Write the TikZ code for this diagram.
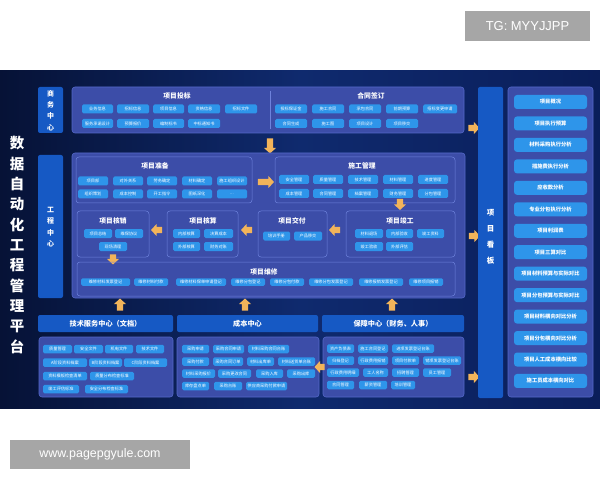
\documentclass[tikz,border=0pt]{standalone}
\usepackage{fontspec}
\setmainfont{Noto Sans CJK SC}
\newfontfamily\wmfont{Liberation Sans}
\usetikzlibrary{shapes.arrows}
\definecolor{panA}{HTML}{061236}
\definecolor{panB}{HTML}{0F2A6E}
\definecolor{panC}{HTML}{0A1E5A}
\definecolor{cenc}{HTML}{1659C4}
\definecolor{grpc}{HTML}{3C4DA8}
\definecolor{grpline}{HTML}{5468C8}
\definecolor{subline}{HTML}{6E82DC}
\definecolor{itemc}{HTML}{2E95EA}
\definecolor{arrc}{HTML}{F2B45A}
\definecolor{wmgray}{HTML}{A6A6A6}
\newcommand\itm[5]{\node[itm, minimum width={(#3-#2)*1bp}] (#1) at ({(#2+#3)/2},#4) {#5};}
\begin{document}
\begin{tikzpicture}[x=1bp,y=-1bp,
 itm/.style={rounded corners=1.5bp, fill=itemc, text=white, font=\fontsize{4.2}{5}\selectfont, inner sep=0pt, minimum height=9bp},
 grp/.style={rounded corners=3bp, fill=grpc, draw=grpline, line width=0.6bp},
 sub/.style={rounded corners=3bp, draw=subline, line width=0.5bp},
 cen/.style={fill=cenc, rounded corners=2bp},
 ttl/.style={text=white, font=\fontsize{6.8}{8}\selectfont\bfseries, inner sep=0pt},
 hdr/.style={text=white, font=\fontsize{7.2}{8}\selectfont\bfseries, inner sep=0pt},
 vtxt/.style={text=white, align=center, inner sep=0pt},
 arr/.style={single arrow, fill=arrc, draw=none, inner sep=3bp, single arrow head extend=2.8bp, minimum height=13bp, single arrow tip angle=95},
 ritm/.style={rounded corners=3bp, fill=itemc, text=white, font=\fontsize{5.3}{6}\selectfont\bfseries, inner sep=0pt, minimum width=73bp, minimum height=14bp},
]
\useasboundingbox (0,0) rectangle (600,480);
\fill[white] (0,0) rectangle (600,480);
% panel
\shade[left color=panA, right color=panC, middle color=panB] (0,71) rectangle (600,408);
% watermarks
\node[fill=wmgray, text=white, font=\wmfont\fontsize{13}{14}\selectfont, minimum width=125bp, minimum height=30bp, inner sep=0pt] (wm1) at (527.5,26) {TG: MYYJJPP};
\node[fill=wmgray, text=white, font=\wmfont\fontsize{12.5}{14}\selectfont, minimum width=180bp, minimum height=29bp, inner sep=0pt] (wm2) at (100,454.5) {www.pagepgyule.com};
% big vertical title
\node[vtxt, font=\fontsize{14.5}{20.4}\selectfont\bfseries] (title) at (17,245) {数\\据\\自\\动\\化\\工\\程\\管\\理\\平\\台};
% centre boxes
\fill[cen] (38,87) rectangle (63,133);
\node[vtxt, font=\fontsize{7}{11.5}\selectfont\bfseries] (swzx) at (50.5,110.5) {商\\务\\中\\心};
\fill[cen] (38,155) rectangle (63,298);
\node[vtxt, font=\fontsize{7}{11.5}\selectfont\bfseries] (gczx) at (50.5,227) {工\\程\\中\\心};
% ---------- top group
\draw[grp] (72,87) rectangle (464,133);
\draw[subline, line width=0.5bp] (270,91) -- (270,129);
\node[ttl] (t1) at (177,96) {项目投标};
\node[ttl] (t2) at (371,96) {合同签订};
\itm{a1}{82}{113}{109}{业务信息}
\itm{a2}{117}{149}{109}{招标信息}
\itm{a3}{153}{184}{109}{项目信息}
\itm{a4}{188}{220}{109}{资格信息}
\itm{a5}{225}{257}{109}{招标文件}
\itm{a6}{82}{113}{123.5}{服务承诺设计}
\itm{a7}{117}{149}{123.5}{预算报价}
\itm{a8}{153}{184}{123.5}{编制标书}
\itm{a9}{188}{220}{123.5}{中标通知书}
\itm{c1}{275}{307}{109}{投标保证金}
\itm{c2}{312}{344}{109}{施工合同}
\itm{c3}{349}{381}{109}{承包合同}
\itm{c4}{386}{418}{109}{前期预算}
\itm{c5}{423}{457}{109}{招标变更申请}
\itm{c6}{275}{307}{123.5}{合同生成}
\itm{c7}{312}{344}{123.5}{施工图}
\itm{c8}{349}{381}{123.5}{项目设计}
\itm{c9}{386}{418}{123.5}{项目移交}
\node[arr, shape border rotate=270, minimum height=15bp] (ar1) at (270,144.5) {};
% ---------- engineering group
\draw[grp] (72,153) rectangle (465,298);
\draw[sub] (76,157) rectangle (252,203);
\node[ttl] (t3) at (155,166) {项目准备};
\itm{p1}{78}{108}{181}{项目部}
\itm{p2}{113}{143}{181}{对外关系}
\itm{p3}{147}{177}{181}{劳务确定}
\itm{p4}{182}{212}{181}{材料确定}
\itm{p5}{217}{247}{181}{施工组织设计}
\itm{p6}{78}{108}{194}{组织策划}
\itm{p7}{113}{143}{194}{成本控制}
\itm{p8}{147}{177}{194}{开工指令}
\itm{p9}{182}{212}{194}{图纸深化}
\itm{p10}{217}{247}{194}{...}
\node[arr, shape border rotate=0, minimum height=16bp] (ar2) at (264.5,182) {};
\draw[sub] (275,157) rectangle (455,203);
\node[ttl] (t4) at (362,166) {施工管理};
\itm{s1}{279}{309}{179.5}{安全管理}
\itm{s2}{313}{343}{179.5}{质量管理}
\itm{s3}{348}{378}{179.5}{技术管理}
\itm{s4}{383}{413}{179.5}{材料管理}
\itm{s5}{418}{448}{179.5}{进度管理}
\itm{s6}{279}{309}{193.5}{成本管理}
\itm{s7}{313}{343}{193.5}{合同管理}
\itm{s8}{348}{378}{193.5}{档案管理}
\itm{s9}{383}{413}{193.5}{财务管理}
\itm{s10}{418}{448}{193.5}{分包管理}
\node[arr, shape border rotate=270, minimum height=11bp] (ar3) at (400,203) {};
% lower row
\draw[sub] (77,211) rectangle (149,257);
\node[ttl] (t5) at (113,221) {项目核销};
\itm{k1}{84}{112}{233.5}{项目总结}
\itm{k2}{115}{143}{233.5}{维保协议}
\itm{k3}{99}{127}{246.5}{现场清理}
\node[arr, shape border rotate=180, minimum height=11bp] (ar4) at (158,230) {};
\draw[sub] (167,211) rectangle (238,257);
\node[ttl] (t6) at (203,221) {项目核算};
\itm{h1}{173}{200}{233.5}{内部核算}
\itm{h2}{204}{233}{233.5}{决算成本}
\itm{h3}{173}{200}{246.5}{外部核算}
\itm{h4}{204}{233}{246.5}{财务对账}
\node[arr, shape border rotate=180, minimum height=11bp] (ar5) at (248,230) {};
\draw[sub] (258,211) rectangle (327,257);
\node[ttl] (t7) at (292,221) {项目交付};
\itm{d1}{263}{290}{236}{培训手册}
\itm{d2}{294}{322}{236}{产品移交}
\node[arr, shape border rotate=180, minimum height=11bp] (ar6) at (336,230) {};
\draw[sub] (346,211) rectangle (455,257);
\node[ttl] (t8) at (400,221) {项目竣工};
\itm{j1}{355}{383}{233.5}{材料退场}
\itm{j2}{386}{413}{233.5}{内部验收}
\itm{j3}{417}{444}{233.5}{竣工资料}
\itm{j4}{355}{383}{246.5}{竣工验收}
\itm{j5}{386}{413}{246.5}{外部评估}
\node[arr, shape border rotate=270, minimum height=10bp] (ar7) at (113,258) {};
\draw[sub] (77,262) rectangle (455,296);
\node[ttl] (t9) at (264,271.5) {项目维修};
\tikzset{itm/.append style={minimum height=7.5bp}}
\itm{m1}{81}{130}{282}{维修材料发票登记}
\itm{m2}{134}{168}{282}{维修材料付款}
\itm{m3}{176}{226}{282}{维修材料保单申请登记}
\itm{m4}{231}{265}{282}{维修分包登记}
\itm{m5}{270}{304}{282}{维修分包付款}
\itm{m6}{309}{353}{282}{维修分包发票登记}
\itm{m7}{359}{403}{282}{维修报销发票登记}
\itm{m8}{409}{443}{282}{维修项目报销}
\tikzset{itm/.append style={minimum height=8.5bp}}
% up arrows
\node[arr, shape border rotate=90, minimum height=12bp] (ar8) at (120,306) {};
\node[arr, shape border rotate=90, minimum height=12bp] (ar9) at (245,306) {};
\node[arr, shape border rotate=90, minimum height=12bp] (ar10) at (392,306) {};
% headers
\fill[cen] (38,315) rectangle (173,332);
\node[hdr] (hd1) at (105.5,323.5) {技术服务中心（文档）};
\fill[cen] (177,315) rectangle (318,332);
\node[hdr] (hd2) at (247.5,323.5) {成本中心};
\fill[cen] (322,315) rectangle (464,332);
\node[hdr] (hd3) at (393,323.5) {保障中心（财务、人事）};
% bottom groups
\draw[grp] (39,337) rectangle (173,397);
\itm{x1}{43}{72}{349}{质量管理}
\itm{x2}{74}{103}{349}{安全文件}
\itm{x3}{105}{133}{349}{机电文件}
\itm{x4}{136}{164}{349}{技术文件}
\itm{x5}{43}{87}{362.5}{A阶段资料档案}
\itm{x6}{89}{122}{362.5}{B阶段资料档案}
\itm{x7}{124}{167}{362.5}{C阶段资料档案}
\itm{x8}{43}{87}{376}{资料模板检查清单}
\itm{x9}{90}{134}{376}{质量分布检查标准}
\itm{x10}{43}{79}{389}{竣工评估标准}
\itm{x11}{85}{128}{389}{安全分布检查标准}
\draw[grp] (177,337) rectangle (319,397);
\itm{y1}{182}{209}{349}{采购申请}
\itm{y2}{213}{244}{349}{采购合同申请}
\itm{y3}{248}{289}{349}{材料采购合同台账}
\itm{y4}{182}{209}{361.5}{采购付款}
\itm{y5}{213}{243}{361.5}{采购合同订单}
\itm{y6}{247}{274}{361.5}{材料出库单}
\itm{y7}{278}{315}{361.5}{材料送货单台账}
\itm{y8}{182}{215}{373.5}{材料采购报价}
\itm{y9}{218}{251}{373.5}{采购更改合同}
\itm{y10}{256}{283}{373.5}{采购入库}
\itm{y11}{287}{315}{373.5}{采购出库}
\itm{y12}{182}{209}{386}{库存盘点单}
\itm{y13}{214}{242}{386}{采购台账}
\itm{y14}{246}{287}{386}{供应商采购付款申请}
\draw[grp] (323,337) rectangle (464,397);
\itm{z1}{327}{354}{348.5}{资产负债表}
\itm{z2}{358}{388}{348.5}{施工合同登记}
\itm{z3}{392}{434}{348.5}{进项发票登记台账}
\itm{z4}{327}{354}{360.5}{归档登记}
\itm{z5}{358}{388}{360.5}{行政费用报销}
\itm{z6}{392}{419}{360.5}{项目付款单}
\itm{z7}{423}{461}{360.5}{销项发票登记台账}
\itm{z8}{327}{359}{372.5}{行政费用明细}
\itm{z9}{363}{388}{372.5}{工人名称}
\itm{z10}{392}{419}{372.5}{招聘管理}
\itm{z11}{423}{451}{372.5}{员工管理}
\itm{z12}{327}{354}{385}{合同管理}
\itm{z13}{359}{387}{385}{薪资管理}
\itm{z14}{391}{415}{385}{培训管理}
\node[arr, shape border rotate=180, minimum height=10bp] (ar11) at (321,367) {};
% arrows to board
\node[arr, shape border rotate=0, minimum height=11bp] (ar12) at (472.5,128) {};
\node[arr, shape border rotate=0, minimum height=11bp] (ar13) at (473,236) {};
\node[arr, shape border rotate=0, minimum height=11bp] (ar14) at (472.5,377) {};
% board
\fill[cen] (478,87) rectangle (503,398);
\node[vtxt, font=\fontsize{7.5}{16}\selectfont\bfseries] (kb) at (490.5,237) {项\\目\\看\\板};
\draw[grp] (508,87) rectangle (593,397);
\foreach \t [count=\i from 0] in {项目概况,项目执行预算,材料采购执行分析,措施费执行分析,应收款分析,专业分包执行分析,项目利润表,项目三算对比,项目材料预算与实际对比,项目分包预算与实际对比,项目材料横向对比分析,项目分包横向对比分析,项目人工成本横向比较,施工员成本横向对比}
  {\node[ritm] (r\i) at (550.5,{102+21.46*\i}) {\t};}
\end{tikzpicture}
\end{document}
